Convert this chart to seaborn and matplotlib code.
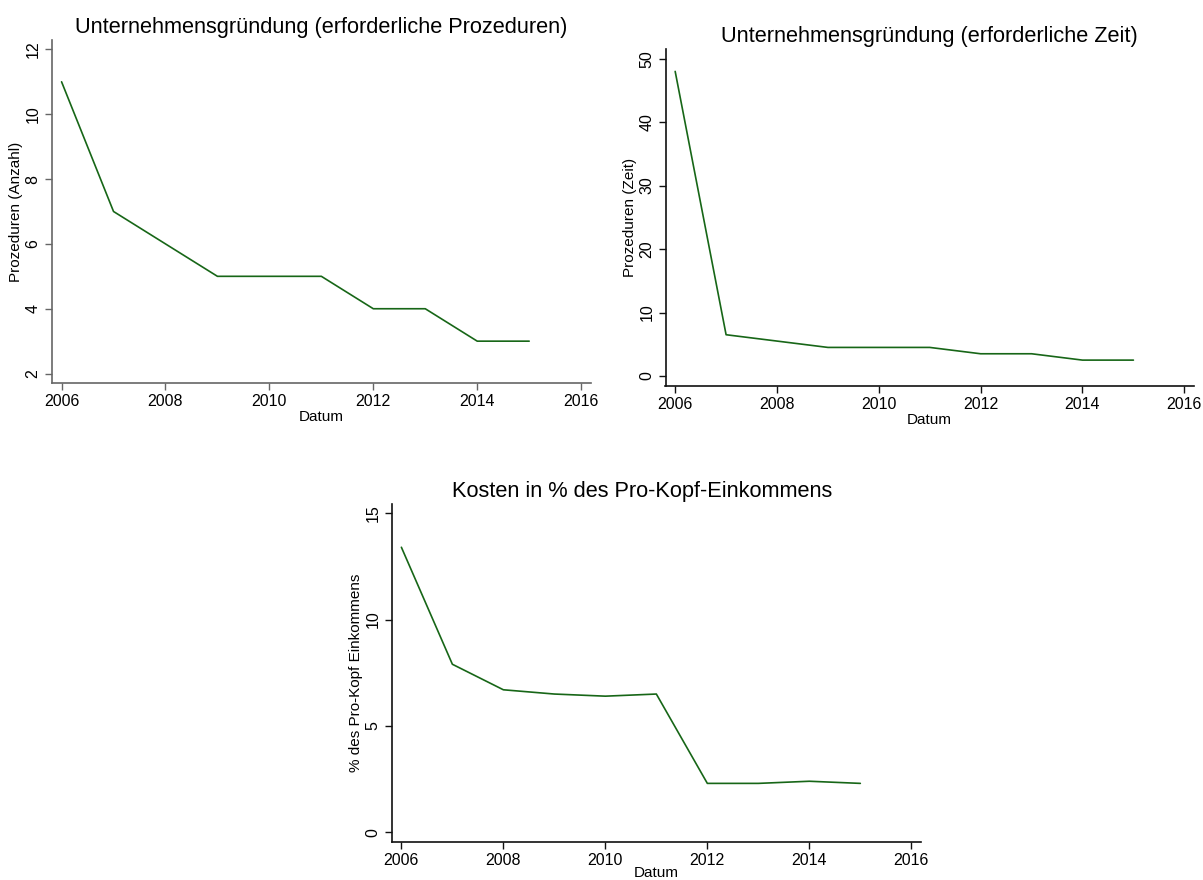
import numpy as np
import pandas as pd
import matplotlib
matplotlib.use("Agg")
import matplotlib.pyplot as plt
import seaborn as sns

# Werte
jahre = [2006, 2007, 2008, 2009, 2010, 2011, 2012, 2013, 2014, 2015]
prozeduren = [11, 7, 6, 5, 5, 5, 4, 4, 3, 3]
zeit = [48, 6.5, 5.5, 4.5, 4.5, 4.5, 3.5, 3.5, 2.5, 2.5]
kosten = [13.4, 7.9, 6.7, 6.5, 6.4, 6.5, 2.3, 2.3, 2.4, 2.3]

x_ticks = [2006, 2008, 2010, 2012, 2014, 2016]

sns.set_style("ticks")
plt.rcParams['font.family'] = ['Liberation Sans', 'DejaVu Sans']
plt.rcParams['text.color'] = 'black'
plt.rcParams['axes.labelcolor'] = 'black'
plt.rcParams['xtick.color'] = 'black'
plt.rcParams['ytick.color'] = 'black'

df = pd.DataFrame({"Datum": jahre, "Prozeduren": prozeduren,
                   "Zeit": zeit, "Kosten": kosten})

linecolor = '#176617'


def make_panel(fig, rect, col, title, ylabel, yticks, ylim, title_x=0.5,
               spine='#333333', xpad=0.5):
    ax = fig.add_axes(rect)
    sns.lineplot(data=df, x="Datum", y=col, ax=ax, color=linecolor, linewidth=1.2)
    ax.set_xlim(2005.81, 2016.19)
    ax.set_ylim(*ylim)
    ax.set_xticks(x_ticks)
    ax.set_yticks(yticks)
    ax.set_yticklabels([str(t) for t in yticks], rotation=90, va='center')
    ax.tick_params(labelsize=11.5, length=5, width=1, color=spine, labelcolor='black', pad=3)
    ax.set_title(title, fontsize=15.7, x=title_x, pad=5, color='black')
    ax.set_xlabel("Datum", fontsize=11, labelpad=xpad)
    ax.set_ylabel(ylabel, fontsize=11, labelpad=2)
    for s in ['top', 'right']:
        ax.spines[s].set_visible(False)
    for s in ['left', 'bottom']:
        ax.spines[s].set_color(spine)
        ax.spines[s].set_linewidth(1.2)
    return ax


W, H = 1203, 880
fig = plt.figure(figsize=(W / 100, H / 100), dpi=100)


def rect(l, r, t, b):
    return [l / W, 1 - b / H, (r - l) / W, (b - t) / H]


make_panel(fig, rect(51.7, 591, 40, 383.3), "Prozeduren",
           "Unternehmensgründung (erforderliche Prozeduren)", "Prozeduren (Anzahl)",
           [2, 4, 6, 8, 10, 12], (1.70, 12.29), spine='#666666')
make_panel(fig, rect(665.5, 1194, 49, 386), "Zeit",
           "Unternehmensgründung (erforderliche Zeit)", "Prozeduren (Zeit)",
           [0, 10, 20, 30, 40, 50], (-1.58, 51.53), spine='#111111')
make_panel(fig, rect(391.7, 921, 504.3, 842.3), "Kosten",
           "Kosten in % des Pro-Kopf-Einkommens", "% des Pro-Kopf Einkommens",
           [0, 5, 10, 15], (-0.47, 15.42), title_x=0.473, spine='#111111', xpad=-1.5)

fig.savefig("out.png", dpi=100, facecolor='white')
